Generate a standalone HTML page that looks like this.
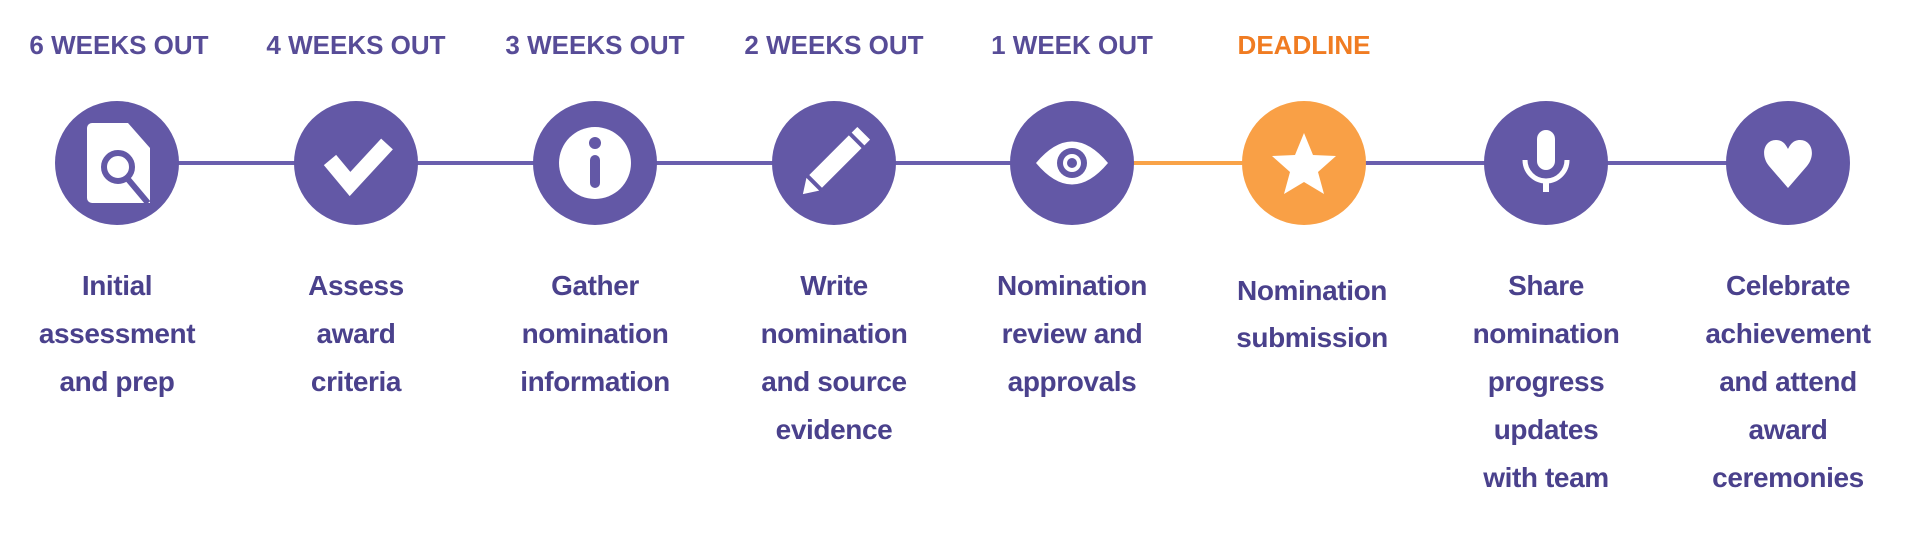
<!DOCTYPE html>
<html><head><meta charset="utf-8"><style>
html,body{margin:0;padding:0;background:#fff;width:1920px;height:550px;overflow:hidden}
svg{display:block}
.h{font-family:"Liberation Sans",sans-serif;font-weight:bold;font-size:26px;fill:#574c97;text-anchor:middle}
.t{font-family:"Liberation Sans",sans-serif;font-weight:bold;font-size:28px;fill:#4a418c;text-anchor:middle;letter-spacing:-0.4px}
</style></head><body>
<svg width="1920" height="550" viewBox="0 0 1920 550" xmlns="http://www.w3.org/2000/svg">
<line x1="117" y1="163" x2="1072" y2="163" stroke="#6a5fae" stroke-width="4"/>
<line x1="1072" y1="163" x2="1304" y2="163" stroke="#f9a348" stroke-width="4"/>
<line x1="1304" y1="163" x2="1788" y2="163" stroke="#6a5fae" stroke-width="4"/>
<g fill="#6358a6">
<circle cx="117" cy="163" r="62"/><circle cx="356" cy="163" r="62"/><circle cx="595" cy="163" r="62"/><circle cx="834" cy="163" r="62"/><circle cx="1072" cy="163" r="62"/><circle cx="1546" cy="163" r="62"/><circle cx="1788" cy="163" r="62"/>
</g>
<circle cx="1304" cy="163" r="62" fill="#f9a046"/>
<!-- icon1 doc+magnifier -->
<path d="M92 123 H128 L150 148 V203 H92 a5 5 0 0 1 -5 -5 V128 a5 5 0 0 1 5 -5z" fill="#fff"/>
<circle cx="118" cy="167" r="14" fill="#fff" stroke="#6358a6" stroke-width="6"/>
<line x1="127" y1="178" x2="148" y2="203" stroke="#6358a6" stroke-width="6"/>
<!-- check -->
<polyline points="330,160 350,184 387,144" fill="none" stroke="#fff" stroke-width="16"/>
<!-- info -->
<circle cx="595" cy="163" r="36" fill="#fff"/>
<circle cx="595" cy="143" r="6" fill="#6358a6"/>
<rect x="590" y="155" width="10" height="33" rx="5" fill="#6358a6"/>
<!-- pencil -->
<g transform="translate(834,163) rotate(45)">
<rect x="-9" y="-30" width="18" height="56" fill="#fff"/>
<rect x="-9" y="-42" width="18" height="8" fill="#fff"/>
<polygon points="-9,30 9,30 0,44" fill="#fff"/>
</g>
<!-- eye -->
<path d="M1036 163 Q1072 120 1108 163 Q1072 206 1036 163z" fill="#fff"/>
<circle cx="1072" cy="163" r="15" fill="#6358a6"/>
<circle cx="1072" cy="163" r="9" fill="#fff"/>
<circle cx="1072" cy="163" r="5" fill="#6358a6"/>
<!-- star -->
<polygon points="1304,133 1313,155 1336,156 1318,172 1324,194 1304,182 1284,194 1290,172 1272,156 1295,155" fill="#fff"/>
<!-- mic -->
<rect x="1537" y="130" width="18" height="40" rx="9" fill="#fff"/>
<path d="M1525 160 a21 21 0 0 0 42 0" fill="none" stroke="#fff" stroke-width="5"/>
<rect x="1543" y="180" width="6" height="12" fill="#fff"/>
<!-- heart -->
<path d="M1788 188 L1769 166 C1760 155 1764 140 1776 140 C1783 140 1786 145 1788 149 C1790 145 1793 140 1800 140 C1812 140 1816 155 1807 166 Z" fill="#fff"/>

<text class="h" x="119" y="54">6 WEEKS OUT</text>
<text class="h" x="356" y="54">4 WEEKS OUT</text>
<text class="h" x="595" y="54">3 WEEKS OUT</text>
<text class="h" x="834" y="54">2 WEEKS OUT</text>
<text class="h" x="1072" y="54">1 WEEK OUT</text>
<text class="h" x="1304" y="54" style="fill:#f07c22">DEADLINE</text>

<text class="t" x="117" y="295">Initial</text><text class="t" x="117" y="343">assessment</text><text class="t" x="117" y="391">and prep</text>
<text class="t" x="356" y="295">Assess</text><text class="t" x="356" y="343">award</text><text class="t" x="356" y="391">criteria</text>
<text class="t" x="595" y="295">Gather</text><text class="t" x="595" y="343">nomination</text><text class="t" x="595" y="391">information</text>
<text class="t" x="834" y="295">Write</text><text class="t" x="834" y="343">nomination</text><text class="t" x="834" y="391">and source</text><text class="t" x="834" y="439">evidence</text>
<text class="t" x="1072" y="295">Nomination</text><text class="t" x="1072" y="343">review and</text><text class="t" x="1072" y="391">approvals</text>
<text class="t" x="1312" y="300">Nomination</text><text class="t" x="1312" y="347">submission</text>
<text class="t" x="1546" y="295">Share</text><text class="t" x="1546" y="343">nomination</text><text class="t" x="1546" y="391">progress</text><text class="t" x="1546" y="439">updates</text><text class="t" x="1546" y="487">with team</text>
<text class="t" x="1788" y="295">Celebrate</text><text class="t" x="1788" y="343">achievement</text><text class="t" x="1788" y="391">and attend</text><text class="t" x="1788" y="439">award</text><text class="t" x="1788" y="487">ceremonies</text>
</svg>
</body></html>
